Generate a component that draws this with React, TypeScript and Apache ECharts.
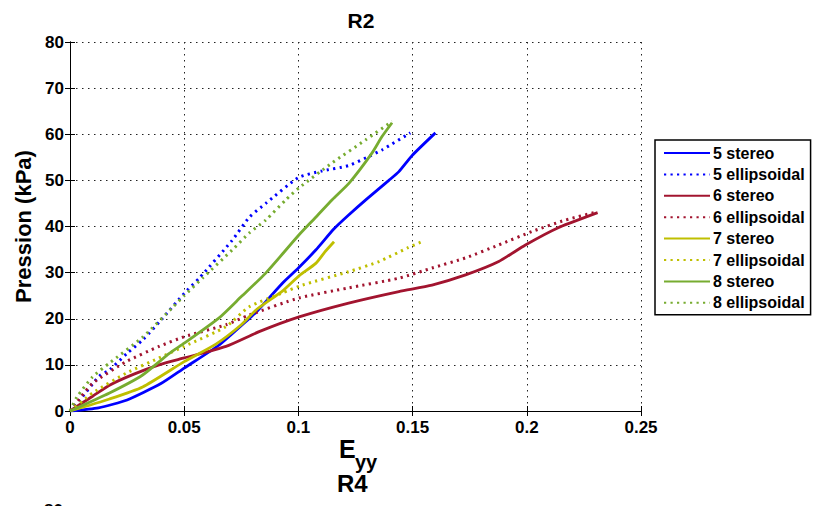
import React, { useEffect, useRef } from "react";
import * as echarts from "echarts";

const xTicks = [0, 0.05, 0.1, 0.15, 0.2, 0.25];
const yTicks = [0, 10, 20, 30, 40, 50, 60, 70, 80];

const seriesNames = [
  "5 stereo",
  "5 ellipsoidal",
  "6 stereo",
  "6 ellipsoidal",
  "7 stereo",
  "7 ellipsoidal",
  "8 stereo",
  "8 ellipsoidal",
];

const s5stereo = [[0,0],[0.0125,0.7],[0.025,2.4],[0.04,6],[0.05,9.3],[0.065,14.2],[0.079,20.3],[0.0817,21.5],[0.093,27.7],[0.1,31],[0.1076,34.9],[0.1156,39.5],[0.122,42.5],[0.13,46],[0.1396,50],[0.144,51.9],[0.15,55.5],[0.16,60.3]];
const s5ellip = [[0,0],[0.004,2.2],[0.0129,7.6],[0.0173,8.9],[0.025,12.5],[0.032,15.5],[0.04,19.8],[0.05,25.5],[0.0566,28.8],[0.071,37],[0.0785,42],[0.0857,45],[0.1,50.6],[0.11,52],[0.122,53.2],[0.13,55],[0.1366,56.6],[0.149,60.3]];
const s6stereo = [[0,0],[0.0099,3.2],[0.0173,5.6],[0.028,8],[0.039,10],[0.05,11.5],[0.0683,14],[0.0828,17.2],[0.1003,20.4],[0.122,23.4],[0.144,25.9],[0.1585,27.3],[0.1732,29.5],[0.1877,32.4],[0.1994,36],[0.214,39.8],[0.231,43]];
const s6ellip = [[0,0],[0.002,1.3],[0.0099,6],[0.0246,10.7],[0.039,14],[0.05,16.1],[0.0683,18.7],[0.0785,20.8],[0.1003,24.5],[0.122,26.7],[0.144,28.8],[0.1585,31],[0.1732,33.2],[0.1877,36],[0.2022,38.9],[0.2169,41.4],[0.231,43.2]];
const s7stereo = [[0,0],[0.0173,2.6],[0.0318,5.2],[0.05,10.7],[0.0639,14.5],[0.075,18.7],[0.0817,22],[0.093,26],[0.1003,29.3],[0.1076,32],[0.1116,34.5],[0.1156,36.7]];
const s7ellip = [[0,0],[0.0099,3.9],[0.0246,8.2],[0.039,11.5],[0.05,14],[0.0683,18.3],[0.0785,22.6],[0.093,25.6],[0.1017,27.3],[0.122,30.2],[0.1353,32.4],[0.148,35.4],[0.1535,36.6]];
const s8stereo = [[0,0],[0.0173,3.9],[0.0318,7.8],[0.0435,12.5],[0.05,14.7],[0.0653,20.2],[0.075,24.8],[0.0857,29.9],[0.1003,38.2],[0.1076,42],[0.1148,45.8],[0.1222,49.4],[0.1322,55.9],[0.1366,59.5],[0.141,62.5]];
const s8ellip = [[0,0],[0.003,3],[0.0099,7.4],[0.0173,10.4],[0.0318,16],[0.045,22.5],[0.05,25],[0.058,28.8],[0.071,34.9],[0.0785,38.6],[0.0857,41.4],[0.0945,45.8],[0.1003,48.4],[0.1148,53.8],[0.1295,58.8],[0.141,62.8]];

const seriesData = [s5stereo, s5ellip, s6stereo, s6ellip, s7stereo, s7ellip, s8stereo, s8ellip];
const seriesColors = ["#0000FF", "#0000FF", "#A2142F", "#A2142F", "#BFBF00", "#BFBF00", "#77AC30", "#77AC30"];
const dotted = [false, true, false, true, false, true, false, true];

const FONT = "'Liberation Sans', Arial, Helvetica, sans-serif";

export default function App() {
  const ref = useRef<HTMLDivElement>(null);
  useEffect(() => {
    document.body.style.margin = "0";
    if (!ref.current) return;
    const chart = echarts.init(ref.current, null, { renderer: "svg" });
    const axisCommon = {
      min: 0,
      axisLine: { show: true, lineStyle: { color: "#000", width: 1 } },
      axisTick: { show: true, inside: true, length: 5, lineStyle: { color: "#000" } },
    };
    chart.setOption({
      animation: false,
      backgroundColor: "#fff",
      title: {
        text: "R2",
        left: 356,
        top: 5,
        textAlign: "center",
        textStyle: { fontFamily: FONT, fontWeight: "bold", fontSize: 21, color: "#000" },
      },
      grid: { left: 70, right: 177, top: 42, bottom: 95, show: false },
      legend: {
        orient: "vertical",
        left: 655,
        top: 140,
        padding: [5, 6, 4, 8],
        itemWidth: 46,
        itemHeight: 14,
        itemGap: 5.4,
        backgroundColor: "#fff",
        borderColor: "#000",
        borderWidth: 1.5,
        borderRadius: 0,
        itemStyle: { opacity: 0 },
        data: seriesNames,
        textStyle: { fontFamily: FONT, fontWeight: "bold", fontSize: 16, color: "#000", padding: [0, 0, 0, -2] },
      },
      xAxis: [
        {
          ...axisCommon,
          type: "value",
          max: 0.25,
          interval: 0.05,
          position: "bottom",
          axisLabel: {
            show: true,
            margin: 8,
            color: "#000",
            fontFamily: FONT,
            fontWeight: "bold",
            fontSize: 17,
            formatter: (v: number) => String(+v.toFixed(2)),
          },
          splitLine: { show: true, lineStyle: { color: "#222", type: [1.5, 4.5], width: 1 } },
        },
        {
          ...axisCommon,
          type: "value",
          max: 0.25,
          interval: 0.05,
          position: "top",
          axisLabel: { show: false },
          splitLine: { show: false },
        },
      ],
      yAxis: [
        {
          ...axisCommon,
          type: "value",
          max: 80,
          interval: 10,
          position: "left",
          name: "Pression (kPa)",
          nameLocation: "middle",
          nameGap: 34,
          nameTextStyle: { fontFamily: FONT, fontWeight: "bold", fontSize: 22, color: "#000" },
          axisLabel: {
            show: true,
            margin: 6,
            color: "#000",
            fontFamily: FONT,
            fontWeight: "bold",
            fontSize: 17,
          },
          splitLine: { show: true, lineStyle: { color: "#222", type: [1.5, 4.5], width: 1 } },
        },
        {
          ...axisCommon,
          type: "value",
          max: 80,
          interval: 10,
          position: "right",
          axisLabel: { show: false },
          splitLine: { show: false },
        },
      ],
      graphic: [
        {
          type: "text",
          left: 339,
          top: 436,
          style: { text: "E", font: `bold 25px ${FONT}`, fill: "#000" },
        },
        {
          type: "text",
          left: 355,
          top: 452,
          style: { text: "yy", font: `bold 20px ${FONT}`, fill: "#000" },
        },
        {
          type: "text",
          left: 337,
          top: 471,
          style: { text: "R4", font: `bold 24px ${FONT}`, fill: "#000" },
        },
        {
          type: "text",
          left: 44,
          top: 502,
          style: { text: "80", font: `bold 17px ${FONT}`, fill: "#000" },
        },
      ],
      series: seriesNames.map((name, i) => ({
        name,
        type: "line",
        data: seriesData[i],
        xAxisIndex: 0,
        yAxisIndex: 0,
        symbol: "none",
        showSymbol: false,
        smooth: 0.2,
        color: seriesColors[i],
        lineStyle: {
          color: seriesColors[i],
          width: dotted[i] ? 3 : 2.8,
          type: dotted[i] ? [2.2, 4.3] : "solid",
        },
        z: 3,
      })),
    });
    return () => chart.dispose();
  }, []);
  return <div ref={ref} style={{ width: 818, height: 506 }} />;
}
